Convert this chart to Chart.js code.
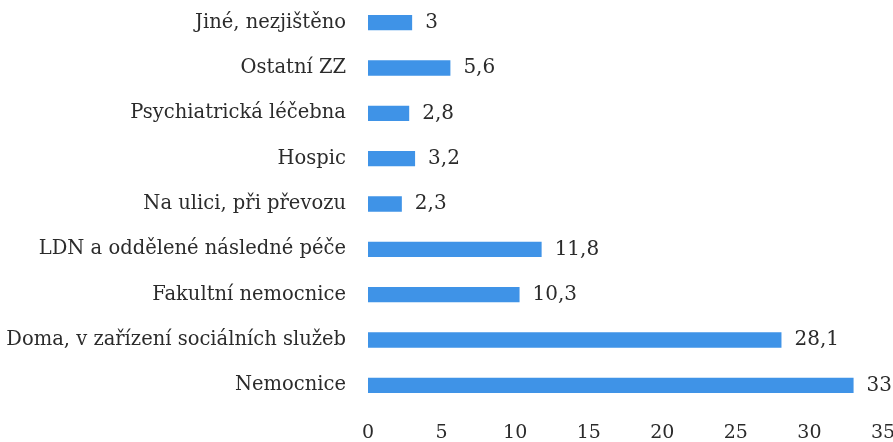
<!DOCTYPE html>
<html>
<head>
<meta charset="utf-8">
<script src="https://cdn.jsdelivr.net/npm/chart.js@4"></script>
<style>
  html, body { margin: 0; padding: 0; background: #fff; overflow: hidden; }
  #wrap { width: 893px; height: 442px; }
</style>
</head>
<body>
<div id="wrap"><canvas id="myChart" width="893" height="442"></canvas></div>
<script>
const kategorie = [
  "Jiné, nezjištěno",
  "Ostatní ZZ",
  "Psychiatrická léčebna",
  "Hospic",
  "Na ulici, při převozu",
  "LDN a oddělené následné péče",
  "Fakultní nemocnice",
  "Doma, v zařízení sociálních služeb",
  "Nemocnice"
];
const hodnoty = [3, 5.6, 2.8, 3.2, 2.3, 11.8, 10.3, 28.1, 33];
const osaX = [0, 5, 10, 15, 20, 25, 30, 35];

const barva = "#3f93e7";
const pismo = "'DejaVu Serif', serif";

// popisky hodnot za koncem sloupců
const popisky = {
  id: "popisky",
  afterDatasetsDraw(chart) {
    const ctx = chart.ctx;
    const meta = chart.getDatasetMeta(0);
    ctx.save();
    ctx.font = "20px " + pismo;
    ctx.fillStyle = "#2b2b2b";
    ctx.textBaseline = "middle";
    ctx.textAlign = "left";
    meta.data.forEach((bar, i) => {
      ctx.fillText(String(hodnoty[i]).replace(".", ","), bar.x + 13, bar.y);
    });
    ctx.restore();
  }
};

new Chart(document.getElementById("myChart").getContext("2d"), {
  type: "bar",
  data: {
    labels: kategorie,
    datasets: [{
      data: hodnoty,
      backgroundColor: barva,
      borderWidth: 0,
      barPercentage: 0.68,
      categoryPercentage: 0.5
    }]
  },
  options: {
    indexAxis: "y",
    responsive: false,
    animation: false,
    plugins: {
      legend: { display: false },
      tooltip: { enabled: false }
    },
    scales: {
      x: {
        min: 0,
        max: 35,
        afterBuildTicks(scale) {
          scale.ticks = osaX.map(v => ({ value: v }));
        },
        grid: { display: false, drawTicks: false },
        border: { display: false },
        ticks: {
          color: "#2b2b2b",
          font: { family: pismo, size: 19 },
          padding: 14,
          maxRotation: 0
        },
        afterFit(scale) {
          scale.height = 34;
          scale.paddingLeft = 0;
          scale.paddingRight = 10;
        }
      },
      y: {
        grid: { display: false, drawTicks: false },
        border: { display: false },
        ticks: {
          color: "#2b2b2b",
          font: { family: pismo, size: 19.5 },
          padding: 22,
          autoSkip: false
        },
        afterFit(scale) {
          scale.width = 368;
          scale.paddingTop = 0;
          scale.paddingBottom = 0;
        }
      }
    }
  },
  plugins: [popisky]
});
</script>
</body>
</html>
